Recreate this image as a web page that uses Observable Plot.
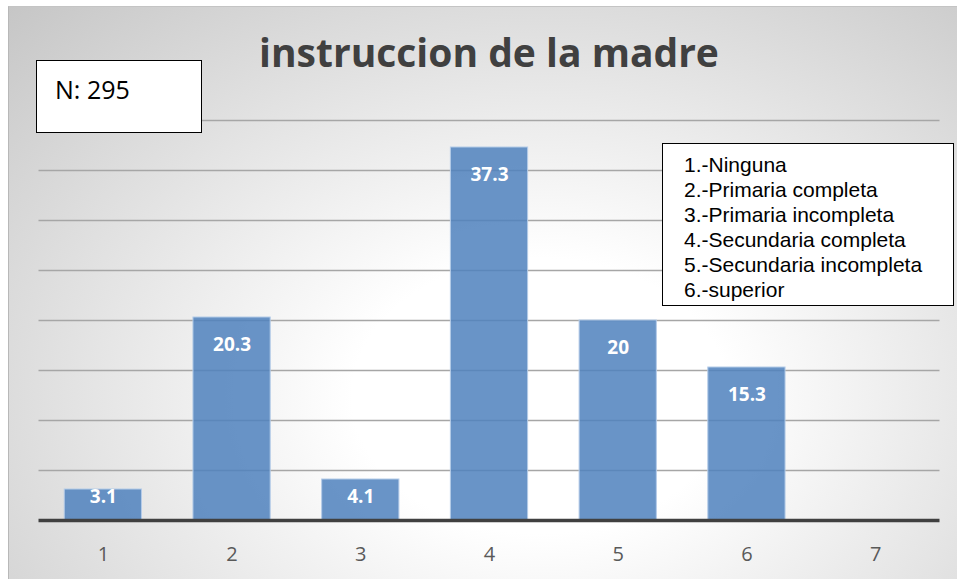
<!DOCTYPE html>
<html>
<head>
<meta charset="utf-8">
<script src="https://cdn.jsdelivr.net/npm/d3@7"></script>
<script src="https://cdn.jsdelivr.net/npm/@observablehq/plot@0.6"></script>
<style>
  html, body { margin: 0; padding: 0; background: #fff; }
  #wrap { position: relative; width: 957px; height: 579px; overflow: hidden; }
  #bg { position: absolute; left: 8px; top: 6px; width: 949px; height: 573px;
        box-sizing: border-box; border-left: 1px solid #b8b8b8; border-top: 1px solid #c4c4c4;
        background: radial-gradient(ellipse farthest-corner at 56% 68%, #ffffff 0%, #ffffff 25%, #c6c6c6 100%); }
  #title { position: absolute; left: 38px; width: 902px; top: 28px; text-align: center;
           font-family: "Open Sans", sans-serif; font-weight: 700; font-size: 39px; line-height: 48px; color: #404040; }
  #nbox { position: absolute; left: 36px; top: 60px; width: 166px; height: 73px; box-sizing: border-box;
          border: 1.5px solid #000; background: #fff; font-family: "Open Sans", sans-serif; font-size: 25px;
          color: #000; padding-left: 18px; padding-top: 12px; line-height: 32px; }
  #legend { position: absolute; left: 662px; top: 143px; width: 292px; height: 163px; box-sizing: border-box;
            border: 1.5px solid #000; background: #fff; font-family: "Liberation Sans", Arial, sans-serif;
            font-size: 21px; line-height: 25px; color: #000; padding-left: 21px; padding-top: 8px; overflow: hidden; }
  #chart { position: absolute; left: 0; top: 0; }
</style>
</head>
<body>
<div id="wrap">
  <div id="bg"></div>
  <div id="chart"></div>
  <div id="title"></div>
  <div id="nbox"></div>
  <div id="legend"></div>
</div>
<script>
const categories = ["1", "2", "3", "4", "5", "6", "7"];
const values = [3.1, 20.3, 4.1, 37.3, 20, 15.3, null];
const gridTicks = [5, 10, 15, 20, 25, 30, 35, 40];
const legendItems = ["1.-Ninguna", "2.-Primaria completa", "3.-Primaria incompleta", "4.-Secundaria completa", "5.-Secundaria incompleta", "6.-superior"];
const titleText = "instruccion de la madre";
const nText = "N: 295";

const data = categories.map((c, i) => ({cat: c, v: values[i]})).filter(d => d.v != null);

const plot = Plot.plot({
  width: 957,
  height: 579,
  marginLeft: 38.5,
  marginRight: 17.5,
  marginTop: 120,
  marginBottom: 59,
  style: {background: "transparent", fontFamily: "Open Sans, sans-serif"},
  x: {domain: categories, paddingInner: 0.4, paddingOuter: 0.2, round: false, label: null},
  y: {domain: [0, 40], axis: null},
  marks: [
    Plot.ruleY(gridTicks, {stroke: "#a6a6a6", strokeWidth: 1.3}),
    Plot.barY(data, {x: "cat", y: "v", fill: "rgb(79,129,189)", fillOpacity: 0.85, stroke: "#b4cbe8", strokeWidth: 1}),
    Plot.ruleY([0], {stroke: "#404040", strokeWidth: 3.5}),
    Plot.text(data, {x: "cat", y: d => Math.max(d.v, 5.1), dy: 27, text: d => String(d.v), fill: "#fff", fontWeight: 700, fontSize: 19}),
    Plot.axisX({tickSize: 0, tickPadding: 26, fontSize: 20, color: "#595959", label: null})
  ]
});
document.getElementById("chart").appendChild(plot);
document.getElementById("title").textContent = titleText;
document.getElementById("nbox").textContent = nText;
document.getElementById("legend").innerHTML = legendItems.map(t => `<div>${t}</div>`).join("");
</script>
</body>
</html>
